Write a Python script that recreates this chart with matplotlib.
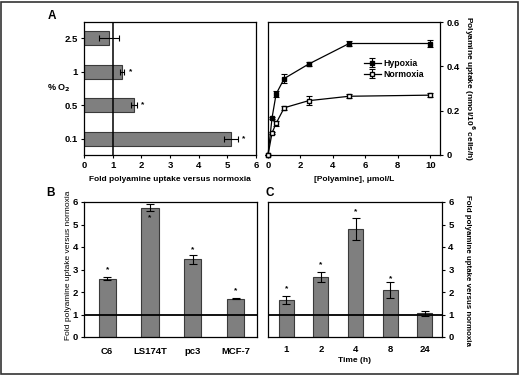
import matplotlib
matplotlib.use("Agg")
import matplotlib.pyplot as plt
from matplotlib.patches import Rectangle

plt.rcParams['font.family'] = ['Liberation Sans', 'DejaVu Sans']
plt.rcParams['font.weight'] = 'bold'

# Panel A left
o2_labels = ["0.1", "0.5", "1", "2.5"]
o2_fold = [5.12, 1.75, 1.33, 0.88]
o2_err = [0.25, 0.10, 0.08, 0.35]
o2_sig = [True, True, True, False]

# Panel A right
conc = [0, 0.25, 0.5, 1, 2.5, 5, 10]
hyp = [0, 0.168, 0.275, 0.345, 0.41, 0.503, 0.503]
hyp_err = [0, 0.005, 0.015, 0.02, 0.008, 0.012, 0.015]
norm = [0, 0.10, 0.143, 0.213, 0.245, 0.265, 0.27]
norm_err = [0, 0.005, 0.01, 0.01, 0.02, 0.008, 0.01]

# Panel B
cells = ["C6", "LS174T", "pc3", "MCF-7"]
cell_fold = [2.6, 5.75, 3.45, 1.7]
cell_err = [0.07, 0.15, 0.2, 0.03]
cell_star = [3.0, 5.3, 3.9, 2.05]

# Panel C
times = ["1", "2", "4", "8", "24"]
time_fold = [1.65, 2.65, 4.8, 2.1, 1.05]
time_err = [0.18, 0.22, 0.5, 0.35, 0.12]
time_star = [2.15, 3.2, 5.55, 2.6]

W, H = 520, 375
fig = plt.figure(figsize=(W/100, H/100), dpi=100)

def ax_at(x0, y0, x1, y1):
    return fig.add_axes([x0/W, 1 - y1/H, (x1-x0)/W, (y1-y0)/H])

def ftext(x, y, s, **kw):
    fig.text(x/W, 1 - y/H, s, **kw)

bar_fc = '#7f7f7f'
bar_ec = '#3a3a3a'
tick_fs = 6.8
lab_fs = 6.0

def style(ax):
    ax.tick_params(labelsize=tick_fs, length=2.5, width=0.8, direction='out', pad=2)
    for s in ax.spines.values():
        s.set_linewidth(0.9)
    for t in ax.get_xticklabels() + ax.get_yticklabels():
        t.set_fontweight('bold')

# A left
axA = ax_at(84, 22, 256, 155)
ypos = list(range(len(o2_labels)))
axA.barh(ypos, o2_fold, height=0.42, color=bar_fc, edgecolor=bar_ec, linewidth=0.8)
axA.errorbar(o2_fold, ypos, xerr=o2_err, fmt='none', ecolor='black', elinewidth=0.8, capsize=2.5, capthick=0.8)
for y, v, e, s in zip(ypos, o2_fold, o2_err, o2_sig):
    if s:
        axA.text(v + e + 0.2, y, '*', fontsize=6, ha='center', va='center')
axA.axvline(1, color='black', lw=1.1)
axA.set_xlim(0, 6)
axA.set_ylim(-0.49, 3.48)
axA.set_xticks(range(0, 7))
axA.set_yticks(ypos)
axA.set_yticklabels(o2_labels)
axA.set_xlabel('Fold polyamine uptake versus normoxia', fontsize=lab_fs, fontweight='bold', labelpad=4)
style(axA)
ftext(47, 88, '% O$_2$', fontsize=6.5, fontweight='bold', ha='left', va='center')

# A right
axR = ax_at(268, 22, 440, 155)
axR.errorbar(conc, hyp, yerr=hyp_err, fmt='-s', color='black', mfc='black', mec='black', ms=3.2, lw=0.9,
             elinewidth=0.8, capsize=2.5, capthick=0.8, label='Hypoxia', clip_on=False, zorder=3)
axR.errorbar(conc, norm, yerr=norm_err, fmt='-s', color='black', mfc='white', mec='black', ms=3.2, lw=0.9,
             elinewidth=0.8, capsize=2.5, capthick=0.8, label='Normoxia', clip_on=False, zorder=3)
axR.set_xlim(0, 10.6)
axR.set_ylim(0, 0.6)
axR.set_xticks([0, 2, 4, 6, 8, 10])
axR.set_yticks([0, 0.2, 0.4, 0.6])
axR.set_yticklabels(['0', '0.2', '0.4', '0.6'])
axR.yaxis.tick_right()
axR.set_xlabel('[Polyamine], μmol/L', fontsize=lab_fs, fontweight='bold', labelpad=4)
leg = axR.legend(loc='upper left', bbox_to_anchor=(0.52, 0.77), frameon=False, fontsize=6.3,
                 handlelength=2.0, handletextpad=0.3, borderpad=0.2, labelspacing=0.25)
for t in leg.get_texts():
    t.set_fontweight('bold')
style(axR)
ftext(469, 89, 'Polyamine uptake (nmol/10$^6$ cells/h)', fontsize=lab_fs, fontweight='bold',
      rotation=-90, ha='center', va='center')

# B
axB = ax_at(84, 202, 257, 337)
xb = list(range(len(cells)))
axB.bar(xb, cell_fold, width=0.4, color=bar_fc, edgecolor=bar_ec, linewidth=0.8)
axB.errorbar(xb, cell_fold, yerr=cell_err, fmt='none', ecolor='black', elinewidth=0.8, capsize=3, capthick=0.8)
for x, s in zip(xb, cell_star):
    axB.text(x, s, '*', fontsize=6, ha='center', va='center')
axB.axhline(1, color='black', lw=1.3)
axB.set_xlim(-0.54, 3.5)
axB.set_ylim(0, 6)
axB.set_xticks(xb)
axB.set_xticklabels(cells)
axB.set_yticks(range(0, 7))
style(axB)
axB.tick_params(axis='x', length=0, pad=7)
ftext(68, 265, 'Fold polyamine uptake versus normoxia', fontsize=6.0, fontweight='normal',
      rotation=90, ha='center', va='center')

# C
axC = ax_at(268, 202, 442, 337)
xc = list(range(len(times)))
axC.bar(xc, time_fold, width=0.43, color=bar_fc, edgecolor=bar_ec, linewidth=0.8)
axC.errorbar(xc, time_fold, yerr=time_err, fmt='none', ecolor='black', elinewidth=0.8, capsize=3, capthick=0.8)
for x, s in zip(xc, time_star):
    axC.text(x, s, '*', fontsize=6, ha='center', va='center')
axC.axhline(1, color='black', lw=1.3)
axC.set_xlim(-0.53, 4.5)
axC.set_ylim(0, 6)
axC.set_xticks(xc)
axC.set_xticklabels(times)
axC.set_yticks(range(0, 7))
axC.yaxis.tick_right()
axC.set_xlabel('Time (h)', fontsize=lab_fs, fontweight='bold', labelpad=2)
style(axC)
axC.tick_params(axis='x', length=0, pad=6)
ftext(468, 270, 'Fold polyamine uptake versus normoxia', fontsize=5.7, fontweight='bold',
      rotation=-90, ha='center', va='center')

# panel letters
ftext(48, 16, 'A', fontsize=8.5, fontweight='bold', ha='left', va='center')
ftext(46, 193, 'B', fontsize=8.5, fontweight='bold', ha='left', va='center')
ftext(265, 193, 'C', fontsize=8.5, fontweight='bold', ha='left', va='center')

# figure border
fig.patches.append(Rectangle((1/W, 1/H), (W-3)/W, (H-3)/H, transform=fig.transFigure,
                             fill=False, edgecolor='#333333', linewidth=1.2))

fig.savefig('out.png', dpi=100)
